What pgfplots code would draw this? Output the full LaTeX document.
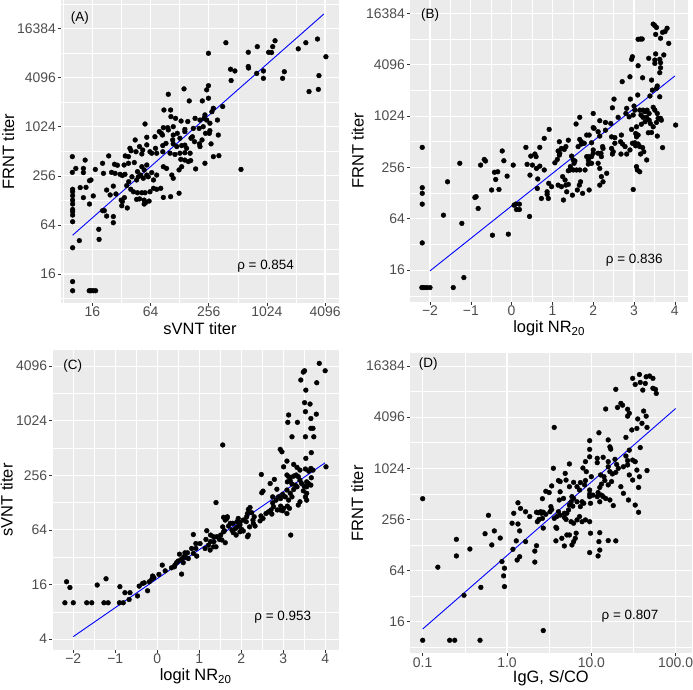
\documentclass[border=0pt]{standalone}
\usepackage{fontspec}
\setmainfont{Liberation Sans}
\usepackage{pgfplots}
\pgfplotsset{compat=1.18}
\definecolor{ggbg}{HTML}{EBEBEB}
\definecolor{ggtick}{HTML}{333333}
\definecolor{gglab}{HTML}{4D4D4D}
\pgfplotsset{gg/.style={
  scale only axis,
  anchor=south west,
  axis background/.style={fill=ggbg},
  axis line style={draw=none},
  grid=both,
  major grid style={white, line width=1.1bp},
  minor grid style={white, line width=0.55bp},
  tick align=outside,
  major tick length=2.9bp,
  minor tick length=0pt,
  tick style={ggtick, line width=0.6bp},
  xtick pos=bottom, ytick pos=left,
  ticklabel style={font=\fontsize{14}{16}\selectfont, text=gglab},
  xticklabel style={inner sep=1bp},
  yticklabel style={inner sep=2bp},
  label style={font=\fontsize{16.5}{19}\selectfont},
  /pgf/number format/assume math mode=true,
  x label style={anchor=center},
  y label style={anchor=center},
},
pts/.style={only marks, mark=*, mark size=2.4bp, draw=black, fill=black},
fit/.style={blue, line width=0.9bp, no marks},
}
\tikzset{ann/.style={font=\fontsize{13.5}{15}\selectfont, anchor=center}}
\begin{document}
\begin{tikzpicture}
\path[use as bounding box] (0,0) rectangle (693bp,690bp);
% ---------------- (A)
\begin{axis}[gg, at={(61bp,387bp)}, width=278bp, height=303bp,
  xmin=2.92, xmax=12.48, ymin=2.82, ymax=15.16,
  xtick={4,6,8,10,12}, xticklabels={16,64,256,1024,4096},
  minor xtick={3,5,7,9,11},
  ytick={4,6,8,10,12,14}, yticklabels={16,64,256,1024,4096,16384},
  minor ytick={3,5,7,9,11,13,15},
  xlabel={sVNT titer}, ylabel={FRNT titer},
  x label style={at={(axis description cs:0.5,-0.085)}},
  y label style={at={(axis description cs:-0.19,0.5)}}]
\addplot[pts] coordinates {(8.59,13.42)(7.99,12.99)(10.28,13.50)(9.67,13.26)(10.06,13.03)(10.16,13.02)(10.20,13.26)(9.36,13.03)(11.08,13.17)(11.34,13.42)(11.74,13.57)(12.03,12.85)(8.75,12.34)(8.90,12.27)(9.36,12.45)(9.37,12.39)(9.65,12.17)(9.88,12.27)(10.60,12.24)(9.88,11.97)(10.54,11.97)(8.77,11.88)(11.79,12.08)(11.45,11.43)(11.77,11.52)(7.99,11.67)(7.93,11.50)(7.15,11.54)(7.99,11.16)(7.33,11.05)(7.78,11.05)(6.61,11.32)(8.48,10.82)(8.16,10.75)(8.11,10.61)(6.46,10.68)(6.69,10.68)(6.70,10.41)(6.86,10.34)(7.05,10.23)(7.28,10.21)(7.53,10.34)(7.70,10.27)(7.84,10.34)(7.93,10.27)(8.04,10.14)(8.30,10.27)(7.87,10.48)(5.81,10.11)(6.44,9.96)(6.59,9.96)(6.61,9.87)(6.78,10.00)(7.18,9.89)(7.47,9.93)(7.67,9.93)(7.81,10.00)(8.02,9.73)(8.33,9.66)(8.04,9.84)(6.15,9.59)(5.87,9.57)(5.47,9.46)(6.30,9.80)(6.37,9.73)(6.41,9.66)(6.78,9.66)(6.92,9.73)(7.01,9.53)(7.18,9.80)(7.44,9.59)(7.68,9.30)(7.51,9.39)(7.39,9.53)(7.89,9.73)(7.77,9.46)(5.87,9.26)(6.17,9.12)(6.42,9.23)(6.53,9.32)(6.76,9.46)(6.78,9.30)(6.90,9.19)(7.07,9.23)(7.18,9.25)(7.24,9.12)(5.29,9.12)(5.62,9.19)(5.13,8.81)(5.33,9.02)(5.50,8.98)(5.73,9.05)(5.70,8.89)(5.98,8.98)(6.04,8.92)(6.21,8.92)(6.42,8.98)(6.67,8.92)(6.84,8.87)(7.01,8.92)(7.18,8.94)(7.36,8.92)(7.70,9.19)(8.08,9.30)(8.16,8.78)(8.35,8.82)(3.31,8.78)(3.75,8.64)(3.69,8.30)(3.69,8.13)(3.43,8.30)(3.31,8.14)(4.10,8.26)(3.90,7.80)(3.95,7.83)(4.35,8.51)(4.38,8.10)(4.56,8.81)(4.76,8.47)(4.86,8.43)(4.66,8.14)(4.78,8.10)(4.95,8.06)(5.03,8.01)(5.12,8.06)(5.09,8.44)(5.24,8.51)(5.24,8.78)(5.44,8.54)(5.55,8.17)(5.70,8.37)(5.87,8.44)(6.04,8.13)(5.78,8.24)(5.25,7.76)(5.36,7.96)(5.52,7.83)(5.58,7.96)(5.66,8.03)(5.75,7.90)(5.87,8.03)(5.92,7.96)(6.10,7.83)(6.21,8.03)(6.44,8.37)(6.55,8.30)(6.73,8.03)(6.78,7.90)(6.98,8.24)(7.07,8.37)(7.18,8.64)(7.30,8.58)(7.38,8.62)(7.55,8.28)(7.87,8.51)(7.04,8.67)(5.18,7.60)(5.32,7.45)(4.72,7.58)(4.49,7.42)(4.61,7.22)(4.81,7.26)(5.10,7.11)(4.99,7.01)(5.41,7.35)(5.55,7.31)(5.70,7.31)(5.81,7.31)(5.98,7.35)(6.10,7.49)(6.21,7.45)(6.35,7.49)(6.44,7.12)(6.69,7.15)(6.98,7.29)(5.62,7.06)(5.78,7.01)(5.78,6.85)(5.95,6.97)(5.83,6.91)(5.52,7.04)(4.03,7.18)(3.90,6.85)(3.69,7.11)(3.78,7.53)(3.58,7.52)(4.35,6.58)(4.41,6.58)(4.49,6.36)(4.72,6.34)(4.72,6.09)(5.01,6.78)(5.20,6.69)(5.03,6.95)(4.22,5.82)(4.23,5.41)(3.55,5.36)(3.32,5.07)(3.32,7.45)(3.32,7.35)(3.32,7.19)(3.32,7.01)(3.32,6.85)(3.32,6.63)(3.32,6.54)(3.32,6.40)(3.32,6.13)(3.32,3.69)(3.32,3.32)(3.89,3.32)(3.95,3.32)(4.03,3.32)(4.11,3.32)(9.11,8.26)};
\addplot[fit] coordinates {(3.32,5.58)(11.96,14.59)};
\node[ann] at (axis description cs:0.068,0.94) {(A)};
\node[ann] at (axis description cs:0.736,0.12) {ρ = 0.854};
\end{axis}
% ---------------- (B)
\begin{axis}[gg, at={(410bp,388.3bp)}, width=278.3bp, height=301.7bp,
  xmin=-2.49, xmax=4.33, ymin=2.77, ymax=14.52,
  xtick={-2,-1,0,1,2,3,4}, xticklabels={−2,−1,0,1,2,3,4},
  minor xtick={-2.5,-1.5,-0.5,0.5,1.5,2.5,3.5},
  ytick={4,6,8,10,12,14}, yticklabels={16,64,256,1024,4096,16384},
  minor ytick={3,5,7,9,11,13},
  xlabel={logit NR\textsubscript{20}}, ylabel={FRNT titer},
  x label style={at={(axis description cs:0.5,-0.089)}},
  y label style={at={(axis description cs:-0.188,0.5)}}]
\addplot[pts] coordinates {(-2.19,8.78)(-1.27,8.16)(-1.57,7.44)(-2.19,7.21)(-2.19,6.99)(-2.19,6.57)(-1.67,6.14)(-1.22,5.82)(-2.19,5.06)(-1.17,3.71)(-1.43,3.32)(-2.20,3.32)(-2.15,3.32)(-2.08,3.32)(-2.00,3.32)(-0.47,5.36)(-0.08,5.40)(-0.90,6.83)(-0.87,6.86)(-0.82,6.40)(-0.76,8.09)(-0.67,8.31)(-0.64,8.25)(-0.49,7.12)(-0.42,7.81)(-0.34,7.83)(-0.39,7.53)(-0.31,7.14)(-0.23,8.64)(-0.19,8.26)(-0.11,7.66)(0.04,8.09)(0.35,8.78)(0.38,8.12)(0.45,7.70)(0.47,8.44)(0.57,8.52)(0.60,8.42)(0.51,8.09)(0.61,7.96)(0.69,8.05)(0.69,8.78)(0.64,7.55)(0.63,7.18)(0.44,6.09)(0.80,9.13)(0.80,7.90)(0.06,6.53)(0.12,6.36)(0.19,6.36)(0.19,6.57)(0.10,6.57)
(3.47,13.58)(3.51,13.52)(3.55,13.45)(3.53,13.18)(3.70,13.26)(3.76,13.29)(3.81,13.42)(3.65,13.03)(3.85,12.83)(3.10,12.99)(3.16,13.00)(3.20,13.00)(3.53,12.42)(3.73,12.38)(3.36,12.25)(3.51,12.18)(3.63,12.21)(3.65,12.08)(3.10,11.96)(2.96,12.31)(2.94,12.21)(3.51,12.05)(3.65,11.88)(3.63,11.69)(2.71,11.34)(2.90,11.53)(3.21,11.49)(3.43,11.40)(3.57,11.17)(3.55,11.08)(3.45,11.01)(3.39,10.78)(3.63,10.75)(3.09,10.82)(2.91,10.66)(2.51,10.66)(2.47,10.32)(2.82,10.30)(3.00,10.39)(3.02,10.23)(3.14,10.23)(3.22,10.23)(3.27,10.17)(3.32,10.23)(3.37,10.10)(3.47,10.34)(3.51,10.23)(3.57,10.10)(3.59,9.91)(3.65,9.91)(3.67,9.84)(3.55,9.75)(3.47,9.58)(2.61,9.95)(2.80,10.10)(2.88,9.97)(2.98,10.04)(3.17,10.04)(3.22,9.95)(3.31,9.95)(3.27,9.78)(3.37,9.84)(3.40,9.71)(3.18,9.68)(3.06,9.58)(2.94,9.48)(3.04,9.32)(3.10,9.26)(3.06,9.19)(3.35,9.35)(3.43,9.36)(3.57,9.22)(3.70,8.77)(4.02,9.65)(2.43,9.71)(2.30,9.75)(2.16,9.82)(2.00,10.10)(1.67,9.95)(1.58,9.69)(2.00,9.55)(2.02,9.52)(2.12,9.39)(2.69,9.26)(2.67,9.00)(2.72,8.91)(2.78,8.81)(2.82,8.52)(2.90,8.68)(2.96,8.94)(3.02,8.96)(3.04,8.84)(3.10,8.91)(3.14,8.81)(3.21,8.77)(3.24,8.61)(3.16,8.52)(3.31,8.29)(2.45,9.19)(2.53,9.16)(2.30,9.45)(2.16,9.22)(2.23,8.81)(2.24,8.74)(2.19,8.55)(2.45,8.74)(2.49,8.61)(2.47,8.52)(2.68,8.52)(2.53,8.94)(1.90,9.26)(1.84,9.26)(1.67,9.09)(1.71,9.00)(1.71,8.91)(1.63,8.81)(1.78,8.94)(1.96,8.96)(2.00,8.68)(2.12,8.55)(2.00,8.55)(1.96,8.42)(1.90,8.42)(1.84,8.42)(1.88,8.29)(1.96,8.16)(1.88,8.13)(1.39,9.06)(1.33,8.81)(1.29,8.70)(1.22,8.74)(1.14,8.64)(1.06,8.18)(1.12,8.31)(1.17,8.48)(1.18,8.55)(1.47,8.44)(1.51,8.29)(1.55,8.25)(1.53,8.16)(1.44,8.03)(1.43,7.90)(1.39,7.87)(1.51,7.90)(1.59,7.90)(1.67,7.90)(1.80,7.90)(2.16,7.96)(2.20,7.64)(2.24,7.44)(2.16,7.31)(2.33,7.77)(2.12,8.16)(2.20,8.42)(1.17,9.00)(0.92,9.48)(0.91,7.38)(1.14,7.31)(1.22,7.25)(1.33,7.31)(1.39,7.34)(1.25,7.64)(1.31,7.51)(1.35,7.05)(1.49,6.92)(1.61,7.12)(1.66,7.31)(1.69,7.44)(1.74,6.99)(1.90,7.12)(0.87,7.05)(0.87,6.95)(0.98,7.25)(0.73,6.79)(0.90,6.79)(3.06,8.03)(3.08,7.90)(3.14,7.83)(2.98,7.14)(1.27,6.73)};
\addplot[fit] coordinates {(-2.0,3.97)(4.0,11.56)};
\node[ann] at (axis description cs:0.072,0.95) {(B)};
\node[ann] at (axis description cs:0.806,0.136) {ρ = 0.836};
\end{axis}
% ---------------- (C)
\begin{axis}[gg, at={(52.3bp,40bp)}, width=286.7bp, height=300bp,
  xmin=-2.50, xmax=4.33, ymin=1.60, ymax=12.59,
  xtick={-2,-1,0,1,2,3,4}, xticklabels={−2,−1,0,1,2,3,4},
  minor xtick={-2.5,-1.5,-0.5,0.5,1.5,2.5,3.5},
  ytick={2,4,6,8,10,12}, yticklabels={4,16,64,256,1024,4096},
  minor ytick={3,5,7,9,11},
  xlabel={logit NR\textsubscript{20}}, ylabel={sVNT titer},
  x label style={at={(axis description cs:0.5,-0.088)}},
  y label style={at={(axis description cs:-0.159,0.5)}}]
\addplot[pts] coordinates {(-2.20,3.33)(-2.00,3.33)(-1.68,3.33)(-1.56,3.33)(-1.27,3.33)(-1.17,3.33)(-0.90,3.33)(-0.81,3.33)(-2.16,4.10)(-2.08,3.89)(-1.43,3.98)(-1.22,4.21)(-0.89,3.92)(-0.77,3.70)(-0.65,3.70)(-0.67,3.45)(-0.47,3.58)(-0.43,3.94)(-0.35,4.04)(-0.31,4.06)(-0.23,3.77)(-0.19,4.10)(-0.13,4.19)(-0.08,4.25)(-0.11,4.31)(0.04,4.37)(0.12,4.71)(0.19,4.50)(0.34,4.61)(0.42,4.71)(0.46,4.80)(0.41,4.65)(0.53,5.11)(0.58,4.38)(0.62,4.80)(0.64,5.02)(0.66,5.16)(0.72,5.16)(0.82,5.32)(0.86,5.83)(0.92,5.50)(0.92,5.32)(0.94,5.04)(0.86,5.14)(0.74,4.95)(0.68,4.99)(0.58,4.93)(0.50,4.86)
(3.86,12.10)(4.00,11.83)(3.51,11.83)(3.48,11.78)(3.42,11.49)(3.80,11.39)(3.54,11.12)(3.51,10.66)(3.64,10.61)(3.53,10.33)(3.79,10.24)(3.66,10.08)(3.13,10.21)(3.11,9.94)(3.34,9.94)(3.21,9.41)(3.53,9.41)(3.73,9.41)(3.66,9.72)(3.71,9.72)(3.67,8.83)(3.54,8.62)(2.93,8.95)(2.97,8.86)(3.09,8.52)(3.01,8.31)(3.25,8.40)(3.33,8.29)(3.40,8.19)(3.53,8.23)(3.61,8.15)(3.66,8.25)(3.71,8.19)(4.02,8.31)(1.56,9.11)(2.48,8.03)(2.69,7.70)(2.79,7.85)(2.85,7.49)(2.52,7.42)(2.49,7.36)(1.40,7.00)(3.18,5.81)
(3.09,8.01)(3.13,7.95)(3.17,7.91)(3.25,7.97)(3.31,8.01)(3.36,7.95)(3.40,7.82)(3.17,7.79)(3.10,7.76)(3.21,7.68)(3.29,7.64)(3.33,7.58)(3.25,7.48)(3.44,7.70)(3.50,7.60)(3.56,7.76)(3.60,7.70)(3.66,7.64)(3.67,7.91)(3.56,7.58)(3.48,7.43)(3.56,7.34)(3.53,7.21)(3.56,7.09)(3.40,7.03)(3.36,6.91)(3.17,7.34)(3.21,7.21)(3.13,7.09)(3.05,7.21)(2.99,7.30)(3.09,7.46)(2.94,7.15)(2.89,7.21)(2.83,7.09)(2.75,7.21)(2.75,6.99)(2.94,6.87)(3.01,6.79)(3.10,6.87)(3.15,6.79)(3.09,6.60)(2.99,6.70)(2.93,6.73)(2.86,6.73)(2.77,6.85)(2.71,6.73)(2.65,6.66)(2.73,6.58)(2.59,6.60)(2.47,6.51)(2.52,6.42)(2.45,6.33)(2.31,6.48)(2.28,6.36)(2.21,6.82)(2.17,6.75)(2.15,6.60)(2.25,6.63)(2.13,6.48)(2.12,6.30)(2.05,6.36)(1.97,6.27)(1.97,6.18)(1.93,6.42)(1.91,6.11)(1.86,6.05)(1.74,6.24)(1.70,6.14)(1.66,6.42)(1.62,6.36)(1.58,6.46)(1.67,6.48)(1.56,6.11)(1.58,5.93)(1.51,5.81)(1.60,5.97)(1.78,5.99)(1.81,5.90)(1.88,5.81)(1.97,5.93)(2.01,6.02)(2.05,5.96)(2.17,5.81)(2.15,5.75)(2.20,6.11)(2.29,6.24)(2.33,6.14)(1.80,6.24)(1.90,6.30)(1.42,5.75)(1.48,5.65)(1.54,5.63)(1.34,5.75)(1.27,5.81)(1.18,5.97)(1.16,5.65)(1.27,5.57)(1.22,5.44)(1.34,5.38)(1.14,5.32)(1.02,5.50)(1.26,5.26)(1.40,5.38)(1.62,5.53)(1.35,5.57)};
\addplot[fit] coordinates {(-2.0,2.09)(4.0,8.46)};
\node[ann] at (axis description cs:0.071,0.947) {(C)};
\node[ann] at (axis description cs:0.804,0.111) {ρ = 0.953};
\end{axis}
% ---------------- (D)
\begin{axis}[gg, at={(410bp,36.7bp)}, width=281.7bp, height=300bp,
  xmin=-1.15, xmax=2.19, ymin=2.76, ymax=14.50,
  xtick={-1,0,1,2}, xticklabels={0.1,1.0,10.0,100.0},
  minor xtick={-0.5,0.5,1.5},
  ytick={4,6,8,10,12,14}, yticklabels={16,64,256,1024,4096,16384},
  minor ytick={3,5,7,9,11,13},
  xlabel={IgG, S/CO}, ylabel={FRNT titer},
  x label style={at={(axis description cs:0.5,-0.082)}},
  y label style={at={(axis description cs:-0.187,0.5)}}]
\addplot[pts] coordinates {(-1.00,8.81)(-1.00,3.27)(-0.68,3.27)(-0.62,3.27)(-0.32,3.27)(0.43,3.65)(-0.82,6.13)(-0.60,7.22)(-0.60,6.57)(-0.44,6.84)(-0.51,5.03)(-0.31,5.34)(-0.26,7.44)(-0.22,8.16)(-0.18,7.00)(-0.15,7.55)(-0.08,7.27)(-0.06,6.35)(-0.03,6.09)(-0.04,5.79)(-0.03,5.37)(0.07,6.83)(0.06,7.85)(0.08,8.24)(0.11,7.16)(0.12,6.41)(0.13,8.65)(0.13,7.82)(0.15,7.55)(0.16,8.43)(0.15,6.54)(0.22,8.30)(0.22,7.13)(0.27,8.11)(0.33,6.76)(0.33,6.33)(0.35,6.97)(0.35,8.28)(0.37,8.26)(0.40,8.30)(0.41,8.24)(0.43,8.28)(0.46,8.20)(0.36,7.91)(0.38,8.00)(0.42,8.04)(0.43,7.66)(0.42,8.81)(0.46,9.10)(0.50,9.05)(0.53,9.31)(0.55,10.00)(0.61,9.52)(0.52,8.50)(0.53,8.39)(0.58,7.16)(0.58,7.69)(0.59,7.65)(0.56,8.04)(0.59,8.11)(0.62,8.76)
(1.49,13.52)(1.57,13.67)(1.65,13.58)(1.69,13.61)(1.73,13.52)(1.58,13.36)(1.52,13.28)(1.64,13.32)(1.61,13.06)(1.73,13.13)(1.76,13.09)(1.77,12.93)(1.29,13.09)(1.35,12.54)(1.37,12.47)(1.31,12.38)(1.17,12.32)(1.43,12.31)(1.45,12.15)(1.43,12.04)(1.62,12.24)(1.65,12.04)(1.55,11.93)(1.60,11.76)(1.66,11.60)(0.56,11.60)(1.48,11.50)(1.54,11.56)(1.41,11.21)(1.09,11.39)(0.98,11.08)(1.20,11.11)(1.22,10.84)(1.23,10.75)(1.58,10.81)(1.45,10.71)(0.98,10.74)(0.98,10.45)(0.93,10.26)(0.90,10.01)(1.07,10.39)(1.07,10.22)(1.14,10.43)(1.20,10.26)(1.28,10.35)(1.30,10.15)(1.41,10.48)(1.43,10.30)(1.43,10.13)(1.38,10.06)(1.32,10.00)(1.29,9.84)(1.25,9.78)(1.22,9.87)(1.20,10.06)(1.49,10.32)(1.52,10.26)(1.54,9.93)(1.66,9.91)(1.45,9.74)(1.49,9.54)(1.57,9.67)(1.56,9.25)(1.35,9.28)(1.38,9.02)(1.44,8.76)(1.52,8.56)(1.56,8.28)(0.74,10.17)
(0.94,9.87)(1.00,9.67)(1.11,9.74)(1.15,9.67)(1.16,9.52)(1.20,9.35)(1.24,9.48)(1.12,9.38)(1.10,9.25)(1.08,9.05)(1.12,8.95)(1.14,8.89)(1.17,8.82)(1.22,8.76)(1.26,8.54)(1.10,8.69)(1.07,8.89)(1.02,8.95)(0.98,8.99)(0.98,9.15)(0.93,9.52)(0.92,9.35)(0.87,9.44)(0.83,9.28)(0.86,9.15)(0.79,9.45)(0.74,9.28)(0.70,9.54)(0.69,9.80)(0.63,9.48)(0.63,9.08)(0.67,8.82)(0.77,8.89)(0.79,8.82)(0.76,8.69)(0.78,8.52)(0.74,8.56)(0.73,8.37)(0.83,8.69)(0.89,8.69)(0.87,8.50)(0.91,8.63)(0.99,8.63)(0.98,8.89)(0.61,8.30)(0.63,8.17)(0.68,8.24)(0.71,8.24)(0.68,8.08)(0.70,8.00)(0.76,7.91)(0.79,7.85)(0.83,7.98)(0.86,8.11)(0.89,7.91)(0.93,7.98)(0.98,7.91)(0.51,8.30)
(0.65,7.26)(0.71,7.39)(0.77,7.00)(0.79,7.13)(0.81,7.26)(0.82,7.46)(0.74,7.39)(0.68,6.96)(0.99,7.46)(1.10,7.48)(1.09,7.13)(1.20,7.17)(1.29,7.16)(1.10,6.80)(0.98,6.70)(1.08,6.57)};
\addplot[fit] coordinates {(-1.0,3.71)(2.0,12.34)};
\node[ann] at (axis description cs:0.065,0.964) {(D)};
\node[ann] at (axis description cs:0.781,0.124) {ρ = 0.807};
\end{axis}
\end{tikzpicture}
\end{document}
